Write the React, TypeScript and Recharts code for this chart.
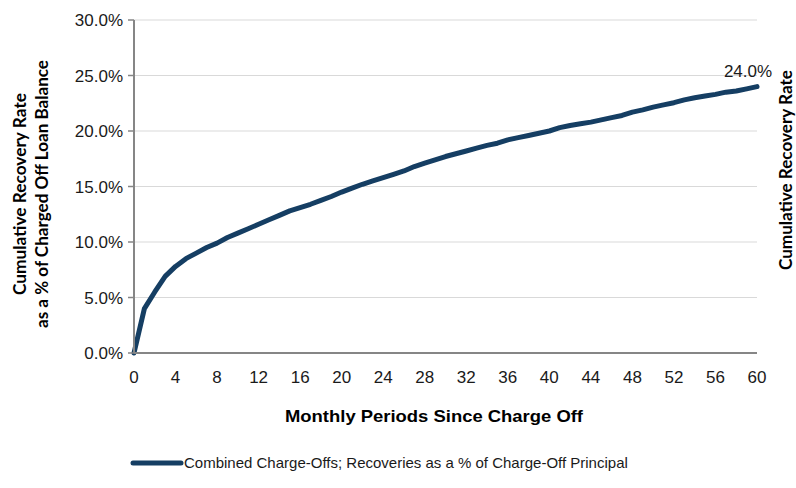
import { CartesianGrid, LabelList, Legend, Line, LineChart, XAxis, YAxis } from "recharts"

const months = [
  0, 1, 2, 3, 4, 5, 6, 7, 8, 9, 10, 11, 12, 13, 14, 15, 16, 17, 18, 19, 20,
  21, 22, 23, 24, 25, 26, 27, 28, 29, 30, 31, 32, 33, 34, 35, 36, 37, 38, 39, 40,
  41, 42, 43, 44, 45, 46, 47, 48, 49, 50, 51, 52, 53, 54, 55, 56, 57, 58, 59, 60,
]

// cumulative recovery rate, % of charged-off balance
const recoveryRate = [
  0, 4.0, 5.5, 6.9, 7.8, 8.5, 9.0, 9.5, 9.9, 10.4, 10.8, 11.2, 11.6, 12.0, 12.4, 12.8, 13.1, 13.4, 13.75, 14.1, 14.5,
  14.85, 15.2, 15.5, 15.8, 16.1, 16.4, 16.8, 17.1, 17.4, 17.7, 17.95, 18.2, 18.45, 18.7, 18.9, 19.2, 19.4, 19.6, 19.8, 20.0,
  20.3, 20.5, 20.65, 20.8, 21.0, 21.2, 21.4, 21.7, 21.9, 22.15, 22.35, 22.55, 22.8, 23.0, 23.15, 23.3, 23.5, 23.6, 23.8, 24.0,
]

const xTicks = [0, 4, 8, 12, 16, 20, 24, 28, 32, 36, 40, 44, 48, 52, 56, 60]
const yTicks = [0, 5, 10, 15, 20, 25, 30]

const seriesName = "Combined Charge-Offs; Recoveries as a % of Charge-Off Principal"
const leftTitle = ["Cumulative Recovery Rate", "as a % of Charged Off Loan Balance"]
const rightTitle = "Cumulative Recovery Rate"
const xTitle = "Monthly Periods Since Charge Off"

const LINE_COLOR = "#153e63"
const AXIS_COLOR = "#868686"
const ARIAL = "'Liberation Sans', Arial, sans-serif"
const TITLE_FONT = "Lato, 'Open Sans', sans-serif"

const data = months.map((m, i) => ({ month: m, rate: recoveryRate[i] }))
const pct = (v: number) => `${v.toFixed(1)}%`

function LeftTitle() {
  return (
    <g fontFamily={TITLE_FONT} fontWeight={700} fontSize={16.5} fill="#000">
      <text x={26} y={194} transform="rotate(-90 26 194)" textAnchor="middle" textLength={202} lengthAdjust="spacingAndGlyphs">
        {leftTitle[0]}
      </text>
      <text x={48} y={194} transform="rotate(-90 48 194)" textAnchor="middle" textLength={268} lengthAdjust="spacingAndGlyphs">
        {leftTitle[1]}
      </text>
    </g>
  )
}

function RightTitle() {
  return (
    <text
      x={792}
      y={170}
      transform="rotate(-90 792 170)"
      textAnchor="middle"
      textLength={200}
      lengthAdjust="spacingAndGlyphs"
      fontFamily={TITLE_FONT}
      fontWeight={700}
      fontSize={16.5}
      fill="#000"
    >
      {rightTitle}
    </text>
  )
}

function XTitle() {
  return (
    <text
      x={434}
      y={422}
      textAnchor="middle"
      textLength={298}
      lengthAdjust="spacingAndGlyphs"
      fontFamily={ARIAL}
      fontWeight={700}
      fontSize={16.5}
      fill="#000"
    >
      {xTitle}
    </text>
  )
}

function EndLabel(props: any) {
  const { x, y, index, value } = props
  if (index !== data.length - 1) return null
  return (
    <text x={x - 9} y={y - 10} textAnchor="middle" fontFamily={ARIAL} fontSize={17} fill="#1a1a1a">
      {pct(Number(value))}
    </text>
  )
}

function LegendBox() {
  return (
    <div style={{ display: "flex", alignItems: "center", fontFamily: ARIAL, fontSize: 15, color: "#1a1a1a", whiteSpace: "nowrap" }}>
      <svg width={54} height={10} style={{ display: "block" }}>
        <line x1={3} y1={5} x2={51} y2={5} stroke={LINE_COLOR} strokeWidth={5} strokeLinecap="round" />
      </svg>
      <span>{seriesName}</span>
    </div>
  )
}

export default function App() {
  return (
    <div style={{ position: "absolute", left: 0, top: 0, width: 796, height: 488, background: "#fff" }}>
      <LineChart width={796} height={488} data={data} margin={{ top: 20, right: 0, bottom: 0, left: 0 }}>
        <CartesianGrid vertical={false} stroke="#d9d9d9" strokeWidth={1} />
        <XAxis
          type="number"
          dataKey="month"
          domain={[0, 60]}
          ticks={xTicks}
          interval={0}
          height={135}
          tickLine={false}
          tickSize={0}
          tickMargin={18}
          axisLine={{ stroke: AXIS_COLOR, strokeWidth: 2 }}
          tick={{ fontSize: 17, fill: "#1a1a1a", fontFamily: ARIAL }}
          label={{ content: () => <XTitle /> }}
        />
        <YAxis
          domain={[0, 30]}
          ticks={yTicks}
          interval={0}
          width={134}
          tickSize={6}
          tickMargin={5}
          tickFormatter={pct}
          axisLine={{ stroke: AXIS_COLOR, strokeWidth: 2 }}
          tickLine={{ stroke: AXIS_COLOR, strokeWidth: 1.5 }}
          tick={{ fontSize: 17, fill: "#1a1a1a", fontFamily: ARIAL }}
          label={{ content: () => <LeftTitle /> }}
        />
        <YAxis
          yAxisId="r"
          orientation="right"
          domain={[0, 30]}
          width={39}
          tick={false}
          tickLine={false}
          axisLine={false}
          label={{ content: () => <RightTitle /> }}
        />
        <Legend
          layout="horizontal"
          verticalAlign="middle"
          align="center"
          wrapperStyle={{ top: 454, left: 130, width: "auto" }}
          content={() => <LegendBox />}
        />
        <Line
          type="linear"
          dataKey="rate"
          name={seriesName}
          stroke={LINE_COLOR}
          strokeWidth={5}
          strokeLinecap="round"
          strokeLinejoin="round"
          dot={false}
          activeDot={false}
          isAnimationActive={false}
        >
          <LabelList dataKey="rate" content={EndLabel} />
        </Line>
      </LineChart>
    </div>
  )
}
